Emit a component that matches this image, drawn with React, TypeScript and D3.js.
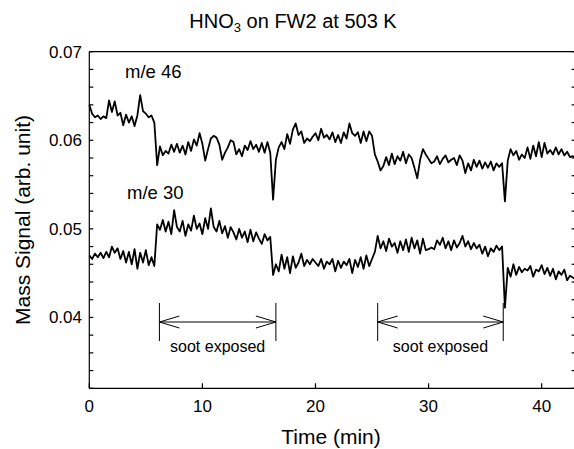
import * as d3 from "d3";

// sampling interval of the recorded traces (min)
const STEP = 0.25;

// m/e 46 signal, one value every STEP minutes from t = 0
const me46 = [
  0.064, 0.063, 0.0626, 0.0628, 0.0624, 0.0627, 0.0625, 0.0645, 0.0632, 0.0644,
  0.0628, 0.0631, 0.0617, 0.0629, 0.062, 0.0627, 0.0616, 0.0628, 0.0651, 0.0633,
  0.063, 0.0626, 0.0628, 0.062, 0.0572, 0.0593, 0.0583, 0.0588, 0.0585, 0.0595,
  0.0587, 0.0596, 0.0586, 0.0594, 0.0584, 0.0598, 0.0588, 0.0601, 0.0594, 0.0608,
  0.0596, 0.0577, 0.059, 0.0602, 0.0605, 0.0603, 0.0595, 0.0578, 0.0586, 0.0592,
  0.06, 0.0598, 0.0584, 0.059, 0.0582, 0.0594, 0.0589, 0.0599, 0.059, 0.0595,
  0.0587, 0.0597, 0.0586, 0.0598, 0.0586, 0.0533, 0.0578, 0.0592, 0.0598, 0.059,
  0.0607, 0.0596, 0.0612, 0.0619, 0.0606, 0.061, 0.0597, 0.0602, 0.0599, 0.0604,
  0.0608, 0.06, 0.0613, 0.0603, 0.0606, 0.0601, 0.0609, 0.0598, 0.0606, 0.0597,
  0.0609, 0.0602, 0.0619, 0.0608, 0.0605, 0.0609, 0.0597, 0.061, 0.0599, 0.061,
  0.0605, 0.0584, 0.0576, 0.0566, 0.0571, 0.0581, 0.0572, 0.0585, 0.0573, 0.0582,
  0.0577, 0.0587, 0.0574, 0.0584, 0.058, 0.0569, 0.0557, 0.0578, 0.059, 0.0584,
  0.0579, 0.0574, 0.0576, 0.0582, 0.0573, 0.0579, 0.0583, 0.0575, 0.0578, 0.058,
  0.0572, 0.0583, 0.0577, 0.0563, 0.0574, 0.0566, 0.0578, 0.057, 0.0577, 0.0568,
  0.0575, 0.0569, 0.0576, 0.0566, 0.0574, 0.057, 0.0574, 0.0531, 0.0577, 0.059,
  0.0583, 0.0588, 0.0578, 0.0584, 0.058, 0.0592, 0.0579, 0.0594, 0.0582, 0.0598,
  0.0581, 0.0597, 0.0585, 0.0589, 0.0584, 0.0592, 0.0584, 0.059, 0.0583, 0.0587,
  0.0581, 0.0582, 0.058,
];

// m/e 30 signal
const me30 = [
  0.047, 0.0466, 0.0472, 0.0468, 0.0473, 0.0467, 0.0474, 0.0468, 0.048, 0.0473,
  0.0478, 0.0466, 0.0475, 0.0462, 0.0474, 0.046, 0.0477, 0.0455, 0.0473, 0.0462,
  0.0476, 0.0459, 0.0468, 0.0458, 0.0505, 0.0499, 0.051, 0.0497, 0.0508, 0.0494,
  0.0521, 0.0502, 0.0497, 0.0509, 0.0492, 0.0505, 0.0498, 0.0515, 0.05, 0.0506,
  0.0494, 0.0512, 0.05, 0.0523, 0.0502, 0.0497, 0.0509, 0.0495, 0.0503, 0.049,
  0.0502, 0.0496, 0.0488, 0.05, 0.049, 0.0497, 0.0485, 0.0499, 0.0486, 0.0496,
  0.0489, 0.0483, 0.0494, 0.0487, 0.0491, 0.0448, 0.046, 0.0452, 0.0471, 0.0455,
  0.0468, 0.045, 0.0469, 0.0456, 0.0462, 0.0472, 0.0458, 0.0465, 0.046, 0.0466,
  0.0462, 0.0458, 0.0466, 0.0455, 0.0463, 0.046, 0.0466, 0.0452, 0.0464, 0.0456,
  0.0463, 0.0459, 0.0466, 0.045, 0.0465, 0.0457, 0.0468, 0.0455, 0.047, 0.0458,
  0.0466, 0.0474, 0.0492, 0.0478, 0.0486, 0.0475, 0.0489, 0.048, 0.0484, 0.0473,
  0.0486, 0.0476, 0.0488, 0.0474, 0.049, 0.0478, 0.0487, 0.0472, 0.0489, 0.0476,
  0.0477, 0.0479, 0.0477, 0.0487, 0.0482, 0.049, 0.0478, 0.0486, 0.0476, 0.0487,
  0.0479, 0.0484, 0.0492, 0.048, 0.0486, 0.0477, 0.0484, 0.0478, 0.0482, 0.0472,
  0.048, 0.0469, 0.0478, 0.0474, 0.0481, 0.0476, 0.048, 0.0411, 0.0456, 0.0446,
  0.046, 0.0448, 0.0457, 0.0451, 0.0455, 0.0453, 0.0458, 0.0446, 0.0454, 0.0452,
  0.0459, 0.0449, 0.0456, 0.0447, 0.0455, 0.0443, 0.0452, 0.0448, 0.0454, 0.0442,
  0.0447, 0.0445, 0.0443,
];

const xTicks = [0, 10, 20, 30, 40];
const yLabels = [0.04, 0.05, 0.06, 0.07];
// soot exposure periods (min)
const exposures = [
  [6.2, 16.5],
  [25.5, 36.6],
];

const W = 574;
const H = 449;
const FONT = "'Liberation Sans', Arial, Helvetica, sans-serif";

export default function App() {
  const x = d3.scaleLinear().domain([0, 43]).range([89.3, 575.6]);
  const y = d3.scaleLinear().domain([0.032, 0.07]).range([388.3, 51.7]);
  const line = d3
    .line<number>()
    .x((_, i) => x(i * STEP))
    .y((d) => y(d));
  const [x0, x1] = x.range();
  const [y0, y1] = y.range();
  const minor = y.ticks(19);

  return (
    <svg
      width={W}
      height={H}
      viewBox={`0 0 ${W} ${H}`}
      style={{ position: "absolute", left: 0, top: 0, background: "#fff" }}
      fontFamily={FONT}
    >
      <text x={293} y={28} fontSize={20} textAnchor="middle">
        HNO
        <tspan fontSize={13} dy={4}>3</tspan>
        <tspan dy={-4}> on FW2 at 503 K</tspan>
      </text>

      {/* frame */}
      <g stroke="#000" strokeWidth={1.2} fill="none">
        <line x1={x0} y1={y1} x2={x0} y2={y0} />
        <line x1={x0} y1={y0} x2={x1} y2={y0} />
        <line x1={x0} y1={y1} x2={x1} y2={y1} />
        <line x1={x1} y1={y1} x2={x1} y2={y0} />
        {minor.map((v) => (
          <g key={v}>
            <line x1={x0} x2={x0 + 4} y1={y(v)} y2={y(v)} />
            <line x1={x1 - 4} x2={x1} y1={y(v)} y2={y(v)} />
          </g>
        ))}
        {xTicks.map((t) => (
          <line key={t} x1={x(t)} x2={x(t)} y1={y0} y2={y0 - 5} />
        ))}
      </g>

      <g fontSize={17} fill="#000">
        {yLabels.map((v) => (
          <text key={v} x={82} y={y(v)} dy="0.35em" textAnchor="end">
            {v.toFixed(2)}
          </text>
        ))}
        {xTicks.map((t) => (
          <text key={t} x={x(t)} y={412} textAnchor="middle">
            {t}
          </text>
        ))}
      </g>

      <text x={331} y={444} fontSize={21} textAnchor="middle">
        Time (min)
      </text>
      <text
        transform={`translate(30,${(y0 + y1) / 2}) rotate(-90)`}
        fontSize={21}
        textAnchor="middle"
      >
        Mass Signal (arb. unit)
      </text>

      <g fill="none" stroke="#000" strokeWidth={1.8} strokeLinejoin="round">
        <path d={line(me46) ?? ""} />
        <path d={line(me30) ?? ""} />
      </g>

      <g fontSize={18.5}>
        <text x={125} y={78}>m/e 46</text>
        <text x={127} y={199}>m/e 30</text>
      </g>

      {exposures.map(([a, b]) => {
        const xa = x(a);
        const xb = x(b);
        const ay = 322;
        return (
          <g key={a}>
            <g stroke="#000" strokeWidth={1} fill="none">
              <line x1={xa} x2={xa} y1={303} y2={341} />
              <line x1={xb} x2={xb} y1={303} y2={341} />
              <line x1={xa} x2={xb} y1={ay} y2={ay} />
              <polyline points={`${xa + 20},${ay - 6} ${xa},${ay} ${xa + 20},${ay + 6}`} />
              <polyline points={`${xb - 20},${ay - 6} ${xb},${ay} ${xb - 20},${ay + 6}`} />
            </g>
            <text x={(xa + xb) / 2} y={352} fontSize={16} textAnchor="middle">
              soot exposed
            </text>
          </g>
        );
      })}
    </svg>
  );
}
